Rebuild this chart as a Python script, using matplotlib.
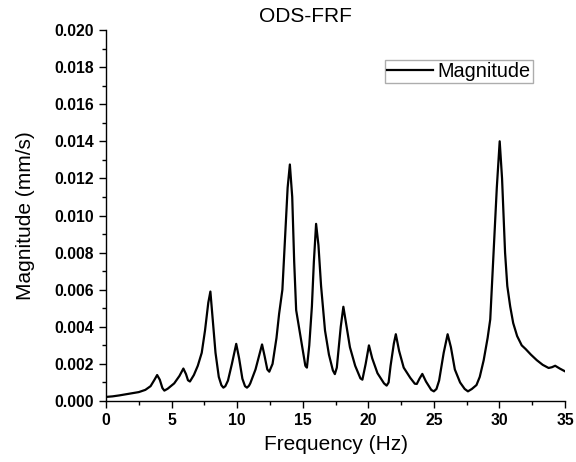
import matplotlib
matplotlib.use('Agg')
import matplotlib.pyplot as plt
from matplotlib.ticker import MultipleLocator, FormatStrFormatter

plt.rcParams['font.family'] = ['Liberation Sans', 'DejaVu Sans']

# values
freq = [0.0, 0.5, 1.0, 1.5, 2.0, 2.5, 3.0, 3.4, 3.7, 3.9, 4.1, 4.3, 4.45, 4.7, 5.2, 5.6,
        5.9, 6.1, 6.25, 6.4, 6.7, 7.0, 7.3, 7.55, 7.8, 7.96, 8.15, 8.35, 8.6, 8.8, 8.95,
        9.1, 9.3, 9.6, 9.93, 10.15, 10.4, 10.6, 10.75, 10.9, 11.0, 11.4, 11.7, 11.9,
        12.1, 12.3, 12.45, 12.7, 13.0, 13.2, 13.45, 13.65, 13.85, 14.02, 14.2, 14.35,
        14.5, 14.8, 15.05, 15.2, 15.32, 15.5, 15.7, 15.85, 16.02, 16.2, 16.4, 16.7, 17.0,
        17.3, 17.45, 17.6, 17.9, 18.1, 18.3, 18.6, 19.0, 19.4, 19.55, 19.8, 20.05, 20.3,
        20.7, 21.2, 21.4, 21.55, 21.7, 21.95, 22.1, 22.35, 22.7, 23.2, 23.55, 23.7,
        23.9, 24.12, 24.4, 24.8, 25.0, 25.2, 25.4, 25.75, 26.05, 26.3, 26.6, 27.0,
        27.35, 27.6, 27.9, 28.25, 28.5, 28.8, 29.1, 29.3, 29.55, 29.8, 30.02, 30.2,
        30.43, 30.6, 30.82, 31.05, 31.35, 31.7, 32.0, 32.4, 32.85, 33.3, 33.75, 34.0,
        34.25, 34.6, 35.0]
mag = [0.00022, 0.00025, 0.00030, 0.00036, 0.00042, 0.00048, 0.00060, 0.00080,
       0.00115, 0.00140, 0.00115, 0.00070, 0.00056, 0.00066, 0.00095, 0.00135,
       0.00175, 0.00145, 0.00112, 0.00105, 0.00140, 0.00190, 0.00260, 0.00380,
       0.00530, 0.00590, 0.00430, 0.00260, 0.00130, 0.00085, 0.00072, 0.00080,
       0.00110, 0.00200, 0.00308, 0.00230, 0.00120, 0.00080, 0.00072, 0.00082,
       0.00095, 0.00170, 0.00250, 0.00305, 0.00240, 0.00170, 0.00158, 0.00200,
       0.00340, 0.00470, 0.00600, 0.00870, 0.01150, 0.01275, 0.01100, 0.00750,
       0.00490, 0.00360, 0.00250, 0.00190, 0.00180, 0.00300, 0.00510, 0.00750,
       0.00955, 0.00840, 0.00620, 0.00380, 0.00250, 0.00165, 0.00145, 0.00180,
       0.00400, 0.00508, 0.00420, 0.00290, 0.00190, 0.00122, 0.00115, 0.00200,
       0.00300, 0.00230, 0.00150, 0.00095, 0.00083, 0.00100, 0.00190, 0.00310,
       0.00360, 0.00270, 0.00180, 0.00125, 0.00093, 0.00092, 0.00120, 0.00146,
       0.00105, 0.00060, 0.00052, 0.00065, 0.00110, 0.00260, 0.00360, 0.00290,
       0.00170, 0.00100, 0.00065, 0.00052, 0.00065, 0.00086, 0.00130, 0.00220,
       0.00340, 0.00440, 0.00800, 0.01150, 0.01400, 0.01200, 0.00800, 0.00620,
       0.00510, 0.00420, 0.00350, 0.00300, 0.00280, 0.00250, 0.00220, 0.00195,
       0.00178, 0.00182, 0.00190, 0.00175, 0.00160]

fig = plt.figure(figsize=(5.76, 4.62), dpi=100)
ax = fig.add_axes([106 / 576, 61 / 462, 459 / 576, 371 / 462])

ax.plot(freq, mag, color='black', lw=1.6, label='Magnitude')

ax.set_xlim(0, 35)
ax.set_ylim(0, 0.020)
ax.xaxis.set_major_locator(MultipleLocator(5))
ax.xaxis.set_minor_locator(MultipleLocator(2.5))
ax.yaxis.set_major_locator(MultipleLocator(0.002))
ax.yaxis.set_minor_locator(MultipleLocator(0.001))
ax.yaxis.set_major_formatter(FormatStrFormatter('%.3f'))

for s in ['top', 'right']:
    ax.spines[s].set_visible(False)
for s in ['left', 'bottom']:
    ax.spines[s].set_linewidth(1.0)
ax.tick_params(which='major', direction='out', length=5, width=1.0, labelsize=11.3)
ax.tick_params(which='minor', direction='out', length=3, width=1.0)
for lbl in ax.get_xticklabels() + ax.get_yticklabels():
    lbl.set_fontweight('bold')

ax.set_xlabel('Frequency (Hz)', fontsize=15, labelpad=5)
ax.set_ylabel('Magnitude (mm/s)', fontsize=15, labelpad=14)
fig.text(305 / 576, 1 - 16 / 462, 'ODS-FRF', ha='center', va='center', fontsize=15)

leg = ax.legend(loc='upper left', bbox_to_anchor=((385 - 106) / 459, (401 - 60) / 371),
                fontsize=14.3, frameon=True, fancybox=False, handlelength=2.3,
                borderpad=0.1, handletextpad=0.25, borderaxespad=0)
leg.get_frame().set_edgecolor('#999999')
leg.get_frame().set_linewidth(1.0)

fig.savefig('out.png', dpi=100)
